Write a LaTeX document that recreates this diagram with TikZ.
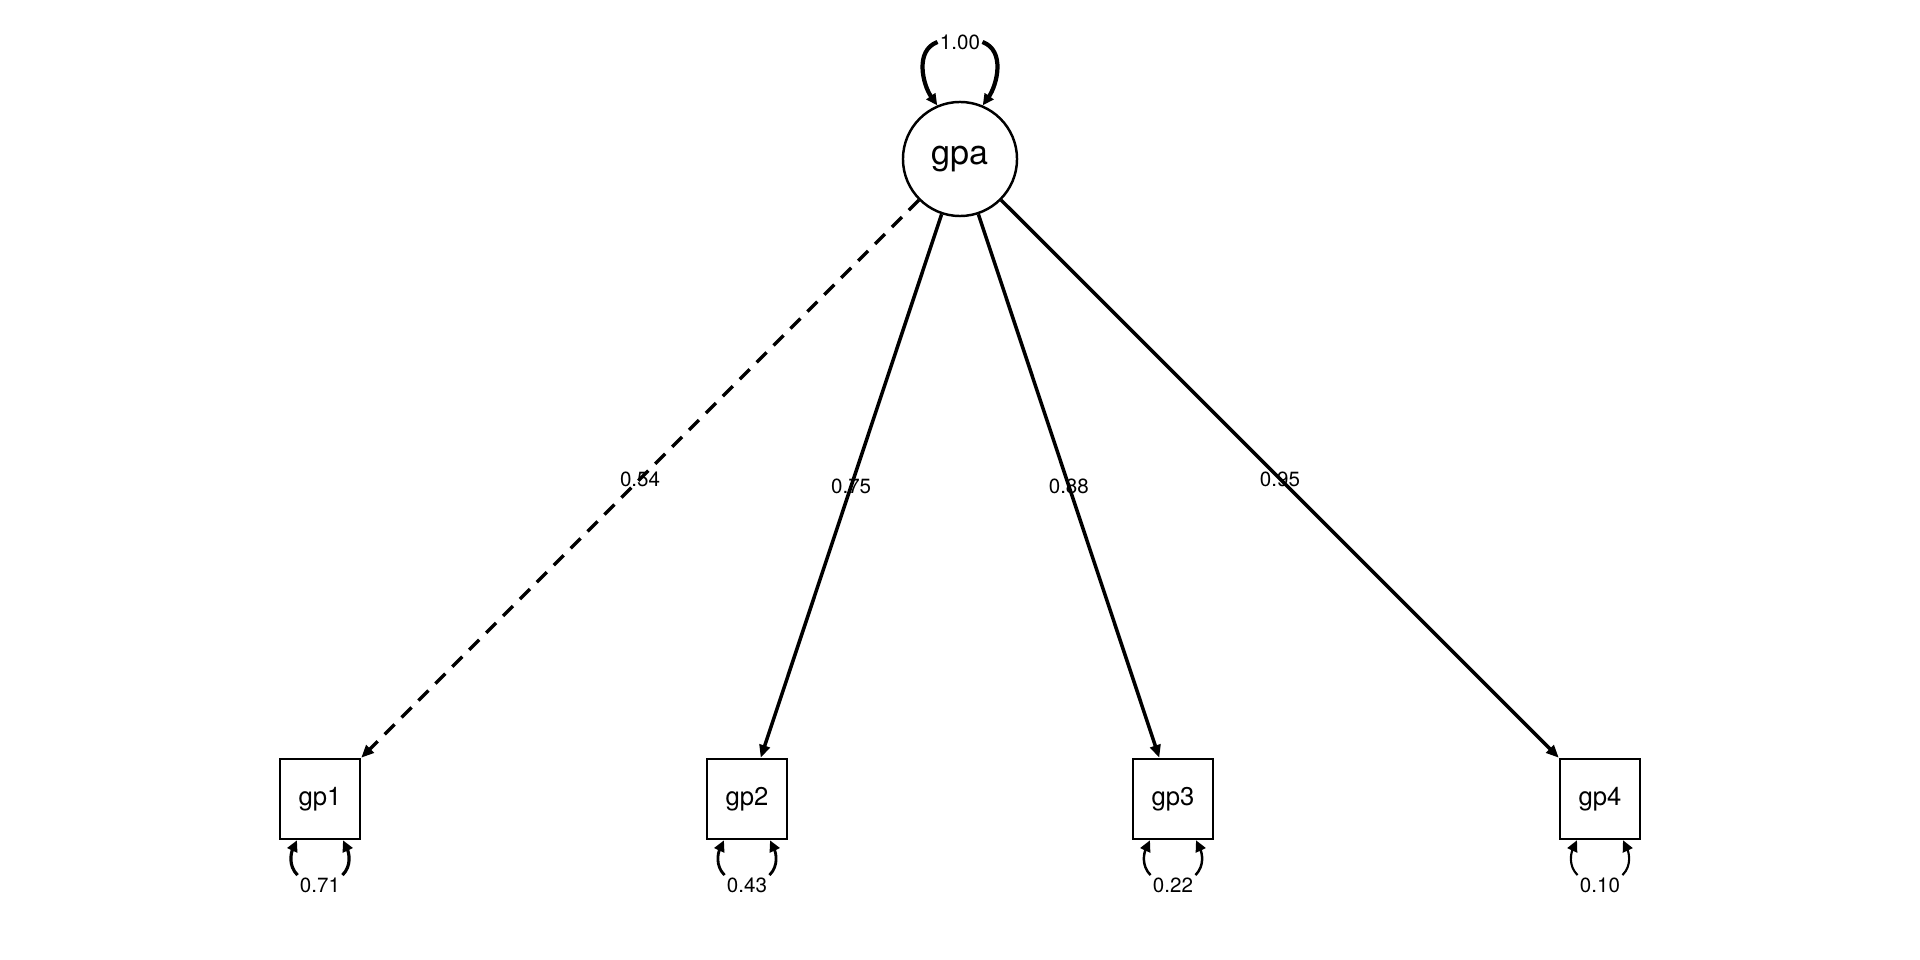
\documentclass[tikz,border=0pt]{standalone}
\usepackage{fontspec}
\setmainfont{TeX Gyre Heros}
\usetikzlibrary{arrows.meta}

\begin{document}
\begin{tikzpicture}[x=0.01cm,y=0.01cm,
	lat/.style={draw,circle,line width=0.7pt,minimum size=1.14cm,inner sep=0pt,font=\fontsize{9.7}{10}\selectfont},
	obs/.style={draw,rectangle,line width=0.7pt,minimum size=0.8cm,inner sep=0pt,font=\fontsize{7.3}{8}\selectfont},
	lbl/.style={inner sep=0.5pt,font=\fontsize{5.85}{6}\selectfont},
	load/.style={line width=1pt,-{Triangle[length=3.6pt,width=3pt]}},
	resid/.style={-{Triangle[length=3.2pt,width=3pt]}}]
	\useasboundingbox (0,0) rectangle (1920,960);
	
	\node[lat] (gpa) at (960,801) {gpa};
	\foreach \i/\x in {1/320,2/747,3/1173,4/1600}
	\node[obs] (gp\i) at (\x,161) {gp\i};
	
	%loadings
	\draw[load,dash pattern=on 4pt off 2.8pt] (gpa) -- node[lbl] {0.54} (gp1);
	\foreach \i/\v in {2/0.75,3/0.88,4/0.95}
	\draw[load] (gpa) -- node[lbl] {\v} (gp\i);
	
	%variances
	\node[lbl] (v0) at (960,918) {1.00};
	\draw[resid,line width=1.2pt] (v0.west) to[out=200,in=125] (gpa.113);
	\draw[resid,line width=1.2pt] (v0.east) to[out=-20,in=55] (gpa.67);
	\foreach \i/\x/\v/\w in {1/320/0.71/0.9pt,2/747/0.43/0.8pt,3/1173/0.22/0.7pt,4/1600/0.10/0.6pt} {
		\node[lbl] (v\i) at (\x,75) {\v};
		\draw[resid,line width=\w] (v\i.north west) to[out=135,in=-115] ([xshift=-0.23cm]gp\i.south);
		\draw[resid,line width=\w] (v\i.north east) to[out=45,in=-65] ([xshift=0.23cm]gp\i.south);
	}
\end{tikzpicture}
\end{document}
